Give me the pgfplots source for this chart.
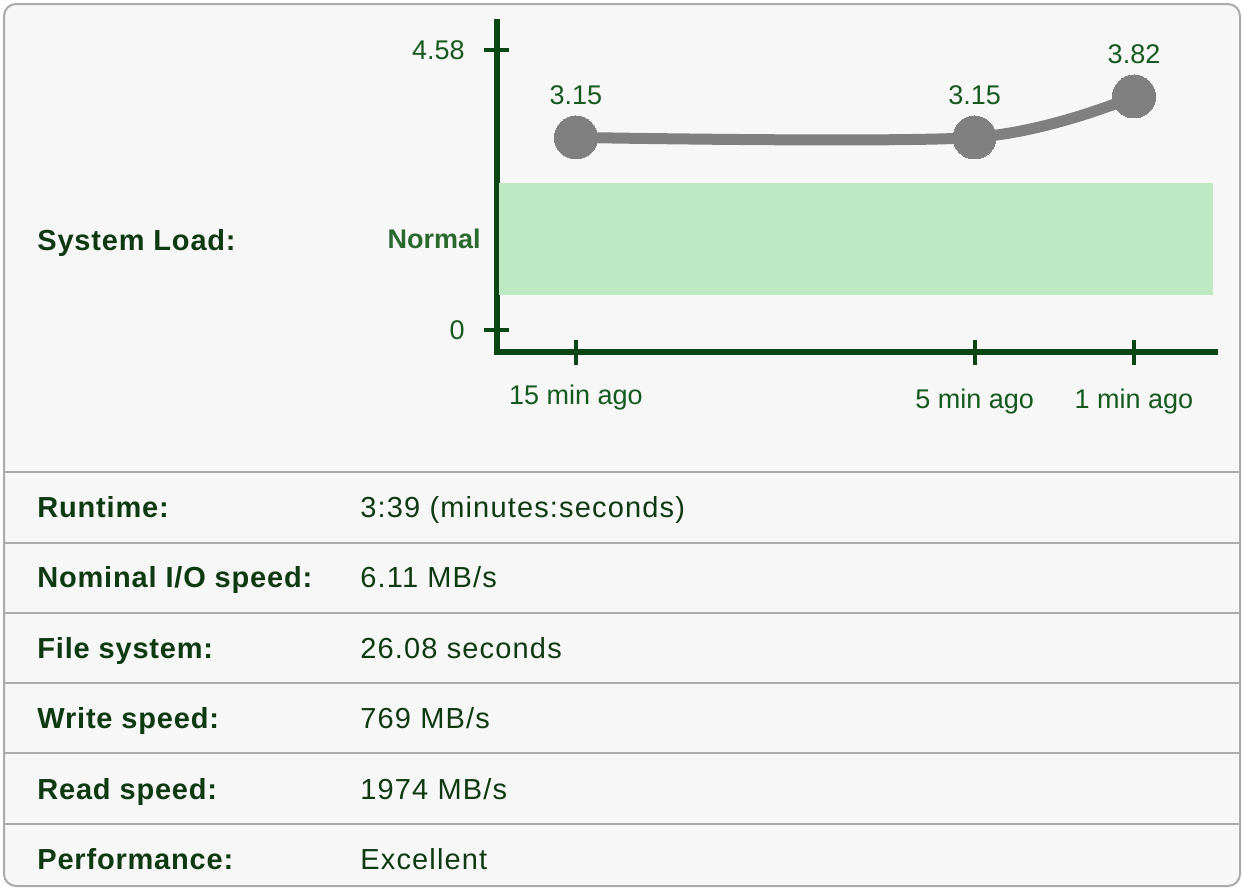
\documentclass[border=0pt]{standalone}
\usepackage{fontspec}
\setmainfont{Liberation Sans}
\usepackage{pgfplots}
\pgfplotsset{compat=1.18}
\definecolor{bg}{HTML}{F7F7F7}
\definecolor{bordergray}{HTML}{ABABAB}
\definecolor{textgreen}{HTML}{0E3A12}
\definecolor{axisgreen}{HTML}{0A4614}
\definecolor{ticklabelgreen}{HTML}{145A1E}
\definecolor{normalgreen}{HTML}{2A692D}
\definecolor{bandgreen}{HTML}{BFE9C2}
\definecolor{linegray}{HTML}{808080}
\newcommand{\tablefont}{\fontsize{14.5pt}{17pt}\selectfont}
\newcommand{\boldtablefont}{\fontsize{14.5pt}{17pt}\selectfont\bfseries\addfontfeatures{LetterSpace=2.8}}
\newcommand{\valuefont}{\fontsize{14.5pt}{17pt}\selectfont\addfontfeatures{LetterSpace=4}}
\newcommand{\chartfont}{\fontsize{13.5pt}{16pt}\selectfont}
\begin{document}
\begin{tikzpicture}
\useasboundingbox (0,0) rectangle (621pt,-445pt);
\fill[white] (0,0) rectangle (621pt,-445pt);
\begin{scope}[x=0.5pt,y=-0.5pt]
\draw[fill=bg, draw=bordergray, line width=1pt, rounded corners=6pt] (4,4) rectangle (1240,886);
\foreach \yy in {472,543,613,683,753,824} \draw[bordergray, line width=1pt] (4,\yy) -- (1240,\yy);
\begin{scope}[every node/.style={inner sep=0pt, text=textgreen, font=\valuefont}]
\node[anchor=base west, font=\boldtablefont] at (37,250) {System Load:};
\node[anchor=base west, font=\boldtablefont] at (37,517) {Runtime:};
\node[anchor=base west, font=\boldtablefont] at (37,587) {Nominal I/O speed:};
\node[anchor=base west, font=\boldtablefont] at (37,658) {File system:};
\node[anchor=base west, font=\boldtablefont] at (37,728) {Write speed:};
\node[anchor=base west, font=\boldtablefont] at (37,799) {Read speed:};
\node[anchor=base west, font=\boldtablefont] at (37,869) {Performance:};
\node[anchor=base west] at (360,517) {3:39 (minutes:seconds)};
\node[anchor=base west] at (360,587) {6.11 MB/s};
\node[anchor=base west] at (360,658) {26.08 seconds};
\node[anchor=base west] at (360,728) {769 MB/s};
\node[anchor=base west] at (360,799) {1974 MB/s};
\node[anchor=base west] at (360,869) {Excellent};
\end{scope}
\end{scope}
\begin{axis}[
  at={(248.25pt,-176pt)}, anchor=south west,
  scale only axis, width=359.25pt, height=165pt,
  xmin=-16.994, xmax=1.032, ymin=-0.36, ymax=5.038,
  clip=false,
  axis x line*=bottom, axis y line*=left,
  every outer x axis line/.append style={-},
  every outer y axis line/.append style={-},
  axis line style={-, draw=axisgreen, line width=3pt, line cap=rect},
  xtick={-15,-5,-1},
  xticklabels={15 min ago, \raisebox{-2pt}{5 min ago}, \raisebox{-2pt}{1 min ago}},
  ytick={0,4.58}, yticklabels={0,4.58},
  tick align=center, major tick length=12.5pt,
  tick style={draw=axisgreen, line width=2pt},
  ticklabel style={font=\chartfont, text=ticklabelgreen, inner sep=0pt},
  xticklabel style={anchor=base, yshift=-19.75pt},
  yticklabel style={anchor=east, xshift=-9.5pt},
  extra y ticks={1.485}, extra y tick labels={\textbf{Normal}},
  extra y tick style={major tick length=0pt, yticklabel style={text=normalgreen, xshift=1.75pt}},
]
\addplot[draw=none, fill=bandgreen, forget plot] coordinates {(-16.93,0.5725) (0.982,0.5725) (0.982,2.405) (-16.93,2.405)};
\addplot[smooth, draw=linegray, line width=5.5pt,
  mark=*, mark size=10.75pt, mark options={fill=linegray, draw=linegray, line width=0pt},
  nodes near coords, point meta=explicit symbolic,
  nodes near coords style={anchor=base, yshift=16.5pt, font=\chartfont, text=ticklabelgreen, inner sep=0pt}]
  coordinates {(-15,3.15) [3.15] (-5,3.15) [3.15] (-1,3.82) [3.82]};
\end{axis}
\end{tikzpicture}
\end{document}
